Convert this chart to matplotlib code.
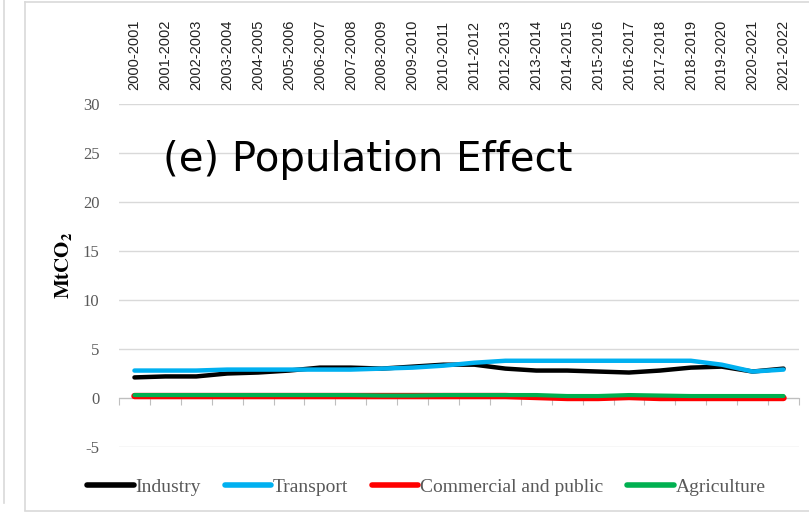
import numpy as np
import matplotlib
matplotlib.use('Agg')
import matplotlib.pyplot as plt
from matplotlib.lines import Line2D

# ── Data ─────────────────────────────────────────────────────
periods = ["2000-2001", "2001-2002", "2002-2003", "2003-2004", "2004-2005",
           "2005-2006", "2006-2007", "2007-2008", "2008-2009", "2009-2010",
           "2010-2011", "2011-2012", "2012-2013", "2013-2014", "2014-2015",
           "2015-2016", "2016-2017", "2017-2018", "2018-2019", "2019-2020",
           "2020-2021", "2021-2022"]

industry   = [2.1, 2.2, 2.2, 2.5, 2.6, 2.8, 3.1, 3.1, 3.0, 3.2, 3.4, 3.4,
              3.0, 2.8, 2.8, 2.7, 2.6, 2.8, 3.1, 3.2, 2.7, 3.0]
transport  = [2.8, 2.8, 2.8, 2.9, 2.9, 2.9, 2.9, 2.9, 3.0, 3.1, 3.3, 3.6,
              3.8, 3.8, 3.8, 3.8, 3.8, 3.8, 3.8, 3.4, 2.7, 2.9]
commercial = [0.2, 0.2, 0.2, 0.2, 0.2, 0.2, 0.2, 0.2, 0.2, 0.2, 0.2, 0.2,
              0.2, 0.1, 0.0, 0.0, 0.1, 0.0, 0.0, 0.0, 0.0, 0.0]
agriculture = [0.3, 0.3, 0.3, 0.3, 0.3, 0.3, 0.3, 0.3, 0.25, 0.25, 0.3, 0.3,
               0.3, 0.3, 0.2, 0.2, 0.3, 0.25, 0.2, 0.2, 0.2, 0.2]

series_names  = ["Industry", "Transport", "Commercial and public", "Agriculture"]
series_colors = ["#000000", "#00B0F0", "#FF0000", "#00B050"]
y_ticks = [-5, 0, 5, 10, 15, 20, 25, 30]

# ── Figure ───────────────────────────────────────────────────
plt.rcParams['mathtext.fontset'] = 'stix'
SERIF = 'Liberation Serif'
SANS = 'Liberation Sans'
TXT_GRAY = '#595959'
GRID = '#D9D9D9'

fig = plt.figure(figsize=(8.09, 5.13), dpi=100)
fig.patch.set_facecolor('white')
ax = fig.add_axes([119 / 809, 1 - 447 / 513, 680 / 809, 343 / 513])

x = np.arange(len(periods))
all_series = [industry, transport, commercial, agriculture]
widths = [3.2, 3.2, 4.6, 3.0]
for vals, col, lw, name in zip(all_series, series_colors, widths, series_names):
    ax.plot(x, vals, color=col, lw=lw, solid_capstyle='round',
            solid_joinstyle='round', label=name, zorder=3)

ax.set_xlim(-0.5, len(periods) - 0.5)
ax.set_ylim(-5, 30)
ax.set_yticks(y_ticks)
ax.set_yticklabels([str(v) for v in y_ticks], fontfamily=SERIF,
                   fontsize=12, color=TXT_GRAY)
ax.tick_params(axis='y', length=0, pad=14)
ax.yaxis.grid(True, color=GRID, lw=1)
ax.set_axisbelow(True)

for side in ['left', 'right', 'top']:
    ax.spines[side].set_visible(False)
ax.spines['bottom'].set_position(('data', 0))
ax.spines['bottom'].set_color('#BFBFBF')
ax.spines['bottom'].set_zorder(2)

# category boundary ticks on the zero axis
ax.set_xticks(np.arange(len(periods) + 1) - 0.5)
ax.set_xticklabels([])
ax.tick_params(axis='x', direction='out', length=5, color='#BFBFBF')

# period labels along the top
top = ax.secondary_xaxis('top')
top.set_xticks(x)
top.set_xticklabels(periods, rotation=90, fontfamily=SANS, fontsize=10.5,
                    color='#222222')
top.tick_params(length=0, pad=10)
top.spines['top'].set_visible(False)

ax.set_ylabel(r'$\mathbf{MtCO_2}$', fontsize=15, labelpad=4)
ax.yaxis.set_label_coords(-0.066, 0.53)

fig.text(163 / 809, 1 - 171 / 513, "(e) Population Effect",
         fontfamily='DejaVu Sans', fontsize=29, va='baseline', ha='left')

handles = [Line2D([0], [0], color=c, lw=4, solid_capstyle='round')
           for c in series_colors]
leg = fig.legend(handles, series_names, loc='center', ncol=4,
                 bbox_to_anchor=(0.527, 1 - 487 / 513), frameon=False,
                 prop={'family': SERIF, 'size': 14}, handlelength=2.4,
                 handletextpad=0.1, columnspacing=1.2)
for t in leg.get_texts():
    t.set_color(TXT_GRAY)

# chart frame borders
fig.add_artist(Line2D([4 / 809, 4 / 809], [0.02, 1.0], color=GRID, lw=1.2,
                      transform=fig.transFigure))
fig.add_artist(Line2D([25 / 809, 25 / 809], [0.005, 1 - 2 / 513], color=GRID,
                      lw=1.2, transform=fig.transFigure))
fig.add_artist(Line2D([25 / 809, 1.0], [1 - 2 / 513, 1 - 2 / 513], color=GRID,
                      lw=1.2, transform=fig.transFigure))
fig.add_artist(Line2D([25 / 809, 1.0], [0.004, 0.004], color=GRID,
                      lw=1.2, transform=fig.transFigure))

fig.savefig('out.png', dpi=100, facecolor='white')
plt.close(fig)
